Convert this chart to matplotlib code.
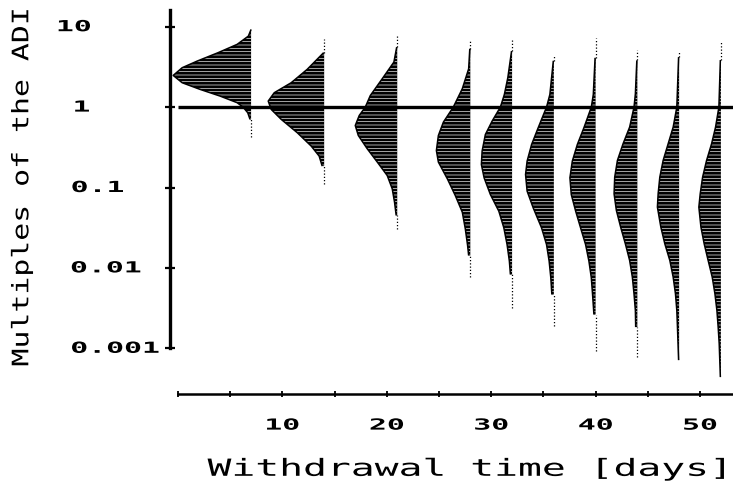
import numpy as np
import matplotlib
matplotlib.use("Agg")
import matplotlib.pyplot as plt
from matplotlib.patheffects import AbstractPathEffect
from matplotlib.transforms import Affine2D
from matplotlib.ticker import NullLocator

# ---------------- data ----------------
days = [7, 14, 21, 28, 32, 36, 40, 44, 48, 52]

# log10(multiples of the ADI) levels and widths (in days) of each distribution
log_d07 = [0.966, 0.883, 0.780, 0.677, 0.572, 0.490, 0.394, 0.303, 0.220, 0.137, 0.055, 0.000, -0.070, -0.153]
wid_d07 = [0.00, 0.26, 1.34, 3.16, 5.17, 6.60, 7.46, 6.60, 4.88, 2.97, 1.34, 0.77, 0.32, 0.10]

log_d14 = [0.677, 0.469, 0.303, 0.179, 0.075, -0.029, -0.153, -0.318, -0.485, -0.609, -0.734]
wid_d14 = [0.05, 1.63, 3.16, 4.78, 5.36, 5.07, 4.11, 2.58, 1.24, 0.48, 0.19]

log_d21 = [0.746, 0.560, 0.352, 0.144, 0.000, -0.104, -0.229, -0.353, -0.519, -0.684, -0.851, -1.016, -1.182, -1.348]
wid_d21 = [0.05, 0.32, 1.44, 2.58, 3.06, 3.64, 4.02, 3.73, 2.87, 1.91, 0.96, 0.48, 0.26, 0.10]

log_d28 = [0.725, 0.476, 0.228, 0.000, -0.187, -0.353, -0.540, -0.684, -0.892, -1.100, -1.306, -1.514, -1.721, -1.846]
wid_d28 = [0.05, 0.16, 0.77, 1.63, 2.58, 3.06, 3.25, 3.06, 2.20, 1.44, 0.77, 0.48, 0.26, 0.16]

log_d32 = [0.697, 0.364, 0.157, 0.000, -0.174, -0.341, -0.547, -0.714, -0.879, -1.087, -1.294, -1.501, -1.709, -1.915, -2.082]
wid_d32 = [0.05, 0.41, 0.74, 1.12, 1.91, 2.56, 2.87, 2.94, 2.68, 2.08, 1.27, 0.79, 0.48, 0.26, 0.16]

log_d36 = [0.576, 0.157, 0.000, -0.257, -0.465, -0.672, -0.838, -1.045, -1.252, -1.501, -1.709, -1.915, -2.123, -2.331]
wid_d36 = [0.05, 0.38, 0.70, 1.50, 2.13, 2.56, 2.71, 2.56, 1.98, 1.18, 0.70, 0.45, 0.29, 0.19]

log_d40 = [0.613, 0.157, 0.000, -0.257, -0.465, -0.672, -0.879, -1.087, -1.294, -1.501, -1.709, -1.915, -2.123, -2.331, -2.580]
wid_d40 = [0.05, 0.22, 0.41, 1.12, 1.75, 2.23, 2.46, 2.33, 1.91, 1.44, 0.96, 0.64, 0.41, 0.29, 0.16]

log_d44 = [0.581, 0.165, 0.000, -0.249, -0.456, -0.663, -0.871, -1.078, -1.285, -1.493, -1.700, -1.907, -2.114, -2.322, -2.529, -2.736]
wid_d44 = [0.05, 0.19, 0.32, 0.74, 1.37, 1.91, 2.17, 2.23, 2.01, 1.60, 1.15, 0.74, 0.48, 0.32, 0.19, 0.16]

log_d48 = [0.622, 0.000, -0.249, -0.456, -0.663, -0.871, -1.078, -1.244, -1.493, -1.700, -1.907, -2.114, -2.322, -2.529, -2.736, -3.147]
wid_d48 = [0.05, 0.22, 0.57, 1.05, 1.53, 1.85, 2.01, 2.08, 1.75, 1.37, 0.89, 0.57, 0.35, 0.22, 0.16, 0.05]

log_d52 = [0.585, 0.000, -0.249, -0.456, -0.663, -0.871, -1.078, -1.244, -1.493, -1.700, -1.907, -2.114, -2.322, -2.529, -2.736, -2.944, -3.358]
wid_d52 = [0.05, 0.19, 0.51, 0.89, 1.37, 1.75, 1.98, 2.11, 1.91, 1.60, 1.22, 0.83, 0.57, 0.38, 0.26, 0.16, 0.05]

# dotted tails beyond the solid part (log10 values)
tail_top_log = [0.966, 0.842, 0.891, 0.828, 0.862, 0.654, 0.862, 0.709, 0.684, 0.808]
tail_bottom_log = [-0.377, -0.961, -1.514, -2.114, -2.496, -2.720, -3.031, -3.109, -3.147, -3.358]

ytick_values = [10, 1, 0.1, 0.01, 0.001]
ytick_labels = ["10", "1", "0.1", "0.01", "0.001"]
xtick_values = [0, 5, 10, 15, 20, 25, 30, 35, 40, 45, 50]
xtick_labels = ["", "", "10", "", "20", "", "30", "", "40", "", "50"]
reference_value = 1.0

x_label = "Withdrawal time [days]"
y_label = "Multiples of the ADI"

# ---------------- helpers ----------------
class Stretch(AbstractPathEffect):
    """Stretch glyphs along the text direction about the ink centre
    (imitates the wide plotter lettering)."""
    def __init__(self, sx):
        super().__init__()
        self.sx = sx

    def draw_path(self, renderer, gc, tpath, affine, rgbFace=None):
        ext = tpath.get_extents()
        cx = 0.5 * (ext.x0 + ext.x1)
        t = Affine2D().translate(-cx, 0).scale(self.sx, 1.0).translate(cx, 0) + affine
        renderer.draw_path(gc, tpath, t, rgbFace)


plt.rcParams["hatch.linewidth"] = 0.45

W_PX, H_PX, DPI = 733, 483, 100
fig = plt.figure(figsize=(W_PX / DPI, H_PX / DPI), dpi=DPI)
fig.patch.set_facecolor("white")

AX_LEFT, AX_RIGHT, AX_TOP, AX_BOTTOM = 169.5, 733.0, 0.0, 394.0
ax = fig.add_axes([AX_LEFT / W_PX, (H_PX - AX_BOTTOM) / H_PX,
                   (AX_RIGHT - AX_LEFT) / W_PX, (AX_BOTTOM - AX_TOP) / H_PX])
ax.set_facecolor("white")

px_per_day = 10.44
day0_px = 178.0
xmin = (AX_LEFT - day0_px) / px_per_day
xmax = (AX_RIGHT - day0_px) / px_per_day
ax.set_xlim(xmin, xmax)

ax.set_yscale("log")
px_per_dec = 80.4
y10_px = 26.7
ytop = 10 ** (1 + (y10_px - AX_TOP) / px_per_dec)
ybot = 10 ** (1 - (AX_BOTTOM - y10_px) / px_per_dec)
ax.set_ylim(ybot, ytop)

logs = [log_d07, log_d14, log_d21, log_d28, log_d32, log_d36, log_d40, log_d44, log_d48, log_d52]
wids = [wid_d07, wid_d14, wid_d21, wid_d28, wid_d32, wid_d36, wid_d40, wid_d44, wid_d48, wid_d52]

for d, lg, wd, tt, tb in zip(days, logs, wids, tail_top_log, tail_bottom_log):
    yv = 10 ** np.asarray(lg)
    left = d - np.asarray(wd)
    ax.fill_betweenx(yv, left, d, facecolor="black", edgecolor="white",
                     hatch="-----", linewidth=0, zorder=2)
    ax.plot(left, yv, color="black", lw=1.1, zorder=3, solid_capstyle="butt")
    if tt > lg[0] + 1e-6:
        ax.vlines(d, yv[0], 10 ** tt, colors="black", lw=0.9,
                  linestyles=(0, (1, 1.6)), zorder=3)
    if tb < lg[-1] - 1e-6:
        ax.vlines(d, 10 ** tb, yv[-1], colors="black", lw=0.9,
                  linestyles=(0, (1, 1.6)), zorder=3)

# reference line at 1 x ADI
ax.hlines(reference_value, 0, xmax, colors="black", lw=2.4, zorder=4)

# spines
for s in ("top", "right"):
    ax.spines[s].set_visible(False)
ax.spines["left"].set_linewidth(2.4)
ax.spines["left"].set_bounds(0.001, 16)
ax.spines["bottom"].set_linewidth(1.8)
ax.spines["bottom"].set_bounds(0, xmax)

# y ticks (labels aligned on the decimal point)
ax.yaxis.set_minor_locator(NullLocator())
ax.set_yticks(ytick_values, labels=ytick_labels)
ax.tick_params(axis="y", direction="inout", length=7.5, width=1.6, pad=0)
half_tick_px = 7.5 / 2 * DPI / 72
ylab_centers_px = [74.0, 81.7, 97.5, 105.8, 115.0]
for tick, cx in zip(ax.yaxis.get_major_ticks(), ylab_centers_px):
    lab = tick.label1
    lab.set_x((cx + half_tick_px - AX_LEFT) / (AX_RIGHT - AX_LEFT))
    lab.set_horizontalalignment("center")
    lab.set_verticalalignment("center")
    lab.set_fontfamily("DejaVu Sans Mono")
    lab.set_fontweight("bold")
    lab.set_fontsize(11)
    lab.set_path_effects([Stretch(1.95)])

# x ticks
ax.xaxis.set_minor_locator(NullLocator())
ax.set_xticks(xtick_values, labels=xtick_labels)
ax.tick_params(axis="x", direction="inout", length=5, width=1.3, pad=14.5)
for lab in ax.get_xticklabels():
    lab.set_fontfamily("DejaVu Sans Mono")
    lab.set_fontweight("bold")
    lab.set_fontsize(11)
    lab.set_path_effects([Stretch(1.95)])

# axis labels
ax.set_xlabel(x_label, fontsize=17, family="DejaVu Sans Mono",
              ha="center", va="baseline", path_effects=[Stretch(1.68)])
ax.xaxis.set_label_coords((468.8 - AX_LEFT) / (AX_RIGHT - AX_LEFT),
                          -(475.8 - AX_BOTTOM) / (AX_BOTTOM - AX_TOP))
ax.set_ylabel(y_label, fontsize=16.4, family="DejaVu Sans Mono",
              ha="center", va="baseline", path_effects=[Stretch(1.31)])
ax.yaxis.set_label_coords((28.3 - AX_LEFT) / (AX_RIGHT - AX_LEFT),
                          (AX_BOTTOM - 186.7) / (AX_BOTTOM - AX_TOP))

fig.savefig("out.png", dpi=DPI, facecolor="white")
